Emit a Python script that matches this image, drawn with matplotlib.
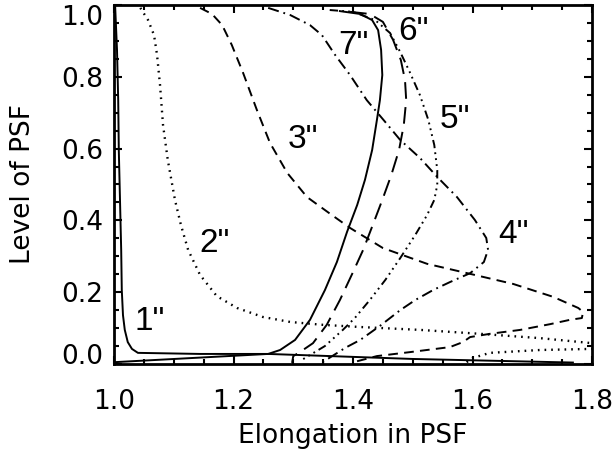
import matplotlib
matplotlib.use("Agg")
import matplotlib.pyplot as plt
from matplotlib.ticker import MultipleLocator, FormatStrFormatter

# curves: elongation (x) vs level of PSF (y)
x_1 = [1.002, 1.005, 1.007, 1.008, 1.010, 1.012, 1.013, 1.015, 1.018, 1.023, 1.030, 1.040, 1.144, 1.258, 1.500, 1.768]
y_1 = [0.992, 0.875, 0.735, 0.596, 0.457, 0.318, 0.206, 0.136, 0.095, 0.061, 0.042, 0.031, 0.028, 0.028, 0.014, 0.004]

x_2 = [1.044, 1.057, 1.067, 1.072, 1.077, 1.082, 1.090, 1.102, 1.112, 1.124, 1.144, 1.172, 1.206, 1.249,
       1.295, 1.350, 1.412, 1.512, 1.613, 1.713, 1.800, 1.830, 1.800, 1.713, 1.629, 1.601, 1.590]
y_2 = [0.992, 0.958, 0.916, 0.861, 0.777, 0.666, 0.568, 0.457, 0.387, 0.318, 0.248, 0.189, 0.156, 0.131,
       0.117, 0.109, 0.103, 0.095, 0.084, 0.072, 0.058, 0.050, 0.042, 0.039, 0.031, 0.017, 0.005]

x_3 = [1.144, 1.164, 1.181, 1.197, 1.216, 1.239, 1.261, 1.290, 1.323, 1.362, 1.395, 1.450, 1.524, 1.591, 1.668,
       1.735, 1.777, 1.785, 1.783, 1.763, 1.730, 1.680, 1.629, 1.596, 1.584, 1.562, 1.495, 1.440, 1.403]
y_3 = [0.992, 0.975, 0.944, 0.889, 0.811, 0.708, 0.616, 0.532, 0.465, 0.418, 0.379, 0.323, 0.279, 0.253, 0.223,
       0.187, 0.156, 0.145, 0.128, 0.123, 0.111, 0.095, 0.084, 0.075, 0.061, 0.047, 0.033, 0.022, 0.006]

x_4 = [1.258, 1.295, 1.328, 1.348, 1.370, 1.395, 1.423, 1.454, 1.479, 1.512, 1.541, 1.574, 1.604, 1.623,
       1.626, 1.619, 1.596, 1.562, 1.534, 1.504, 1.479, 1.445, 1.412, 1.387, 1.350]
y_4 = [0.992, 0.972, 0.944, 0.916, 0.861, 0.805, 0.735, 0.674, 0.624, 0.574, 0.521, 0.465, 0.401, 0.351,
       0.318, 0.284, 0.253, 0.228, 0.206, 0.178, 0.150, 0.106, 0.067, 0.045, 0.006]

x_5 = [1.361, 1.400, 1.437, 1.462, 1.479, 1.495, 1.512, 1.526, 1.536, 1.541, 1.541, 1.536, 1.524, 1.504,
       1.479, 1.454, 1.428, 1.403, 1.383, 1.353, 1.328, 1.311]
y_5 = [0.986, 0.981, 0.958, 0.922, 0.869, 0.813, 0.749, 0.680, 0.610, 0.540, 0.499, 0.457, 0.415, 0.359,
       0.295, 0.234, 0.178, 0.128, 0.095, 0.050, 0.025, 0.008]

x_6 = [1.395, 1.428, 1.450, 1.467, 1.480, 1.487, 1.489, 1.485, 1.477, 1.464, 1.449, 1.433, 1.417, 1.400,
       1.378, 1.356, 1.333, 1.311, 1.300, 1.298]
y_6 = [0.981, 0.975, 0.953, 0.903, 0.847, 0.791, 0.735, 0.666, 0.596, 0.526, 0.457, 0.387, 0.318, 0.256,
       0.178, 0.109, 0.058, 0.033, 0.022, 0.003]

x_7 = [1.378, 1.412, 1.432, 1.442, 1.447, 1.449, 1.445, 1.440, 1.432, 1.420, 1.407, 1.390, 1.373, 1.353,
       1.328, 1.303, 1.278, 1.258, 1.000]
y_7 = [0.983, 0.975, 0.958, 0.930, 0.875, 0.805, 0.735, 0.680, 0.596, 0.513, 0.443, 0.368, 0.284, 0.206,
       0.123, 0.067, 0.039, 0.028, 0.005]

labels = ['1"', '2"', '3"', '4"', '5"', '6"', '7"']
label_x = [1.060, 1.168, 1.316, 1.668, 1.571, 1.501, 1.400]
label_y = [0.117, 0.337, 0.624, 0.362, 0.680, 0.925, 0.886]

x_ticks = [1.0, 1.2, 1.4, 1.6, 1.8]
y_ticks = [0.0, 0.2, 0.4, 0.6, 0.8, 1.0]

plt.rcParams['lines.scale_dashes'] = False

fig = plt.figure(figsize=(6.14, 4.59), dpi=100)
ax = fig.add_axes([0.1857, 0.2070, 0.7785, 0.7821])

lw = 1.4
ax.plot(x_1, y_1, color="black", lw=lw)
ax.plot(x_2, y_2, color="black", lw=1.7, dashes=(1.2, 3.6))
ax.plot(x_3, y_3, color="black", lw=lw, dashes=(7, 4.5))
ax.plot(x_4, y_4, color="black", lw=lw, dashes=(8, 3.5, 1.3, 3.5))
ax.plot(x_5, y_5, color="black", lw=lw, dashes=(6, 3, 1.3, 3, 1.3, 3, 1.3, 3))
ax.plot(x_6, y_6, color="black", lw=lw, dashes=(12, 6))
ax.plot(x_7, y_7, color="black", lw=lw)

for t, lx, ly in zip(labels, label_x, label_y):
    ax.text(lx, ly, t, fontsize=24, family="Liberation Sans", ha="center", va="center")

ax.set_xlim(1.0, 1.8)
ax.set_ylim(0.0, 1.0)
ax.set_xticks(x_ticks)
ax.set_yticks(y_ticks)
ax.xaxis.set_minor_locator(MultipleLocator(0.05))
ax.yaxis.set_minor_locator(MultipleLocator(0.05))
ax.xaxis.set_major_formatter(FormatStrFormatter('%.1f'))
ax.yaxis.set_major_formatter(FormatStrFormatter('%.1f'))
ax.tick_params(which="both", direction="in", top=True, right=True, width=1.5, labelsize=19)
ax.tick_params(which="major", length=6)
ax.tick_params(which="minor", length=3.5)
ax.tick_params(axis="x", pad=18)
ax.tick_params(axis="y", pad=8)
for s in ax.spines.values():
    s.set_linewidth(2)

ylabs = ax.get_yticklabels()
ylabs[0].set_va("baseline")
ylabs[-1].set_va("top")

ax.set_xlabel("Elongation in PSF", fontsize=19, labelpad=6)
ax.set_ylabel("Level of PSF", fontsize=19, labelpad=18)

plt.savefig("out.png", dpi=100)
plt.close()
